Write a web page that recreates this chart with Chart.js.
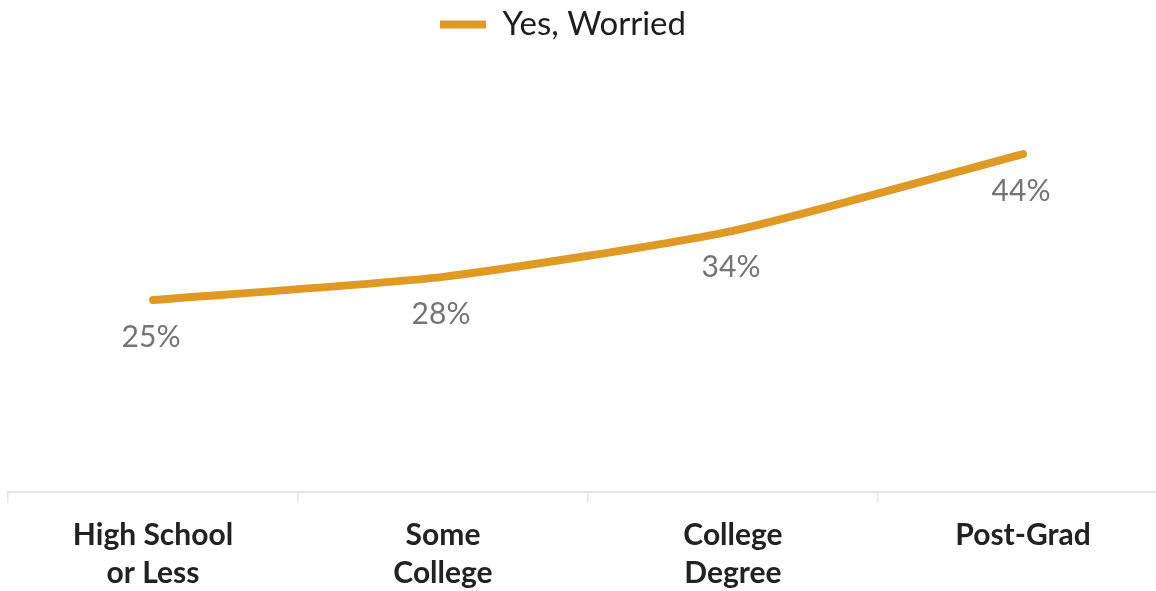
<!DOCTYPE html>
<html>
<head>
<meta charset="utf-8">
<script src="https://cdn.jsdelivr.net/npm/chart.js@4.4.1/dist/chart.umd.min.js"></script>
<style>
  html, body { margin: 0; padding: 0; background: #fff; overflow: hidden; }
  #wrap { position: relative; width: 1168px; height: 605px; }
</style>
</head>
<body>
<div id="wrap"><canvas id="worryChart"></canvas></div>
<script>
const categories = [['High School', 'or Less'], ['Some', 'College'], ['College', 'Degree'], ['Post-Grad']];
const worriedValues = [25, 28, 34, 44];
const seriesName = 'Yes, Worried';

const lineColor = '#DF9A26';

// percent labels drawn just under each point
const pointLabels = {
    id: 'pointLabels',
    afterDatasetsDraw(chart) {
        const ctx = chart.ctx;
        const meta = chart.getDatasetMeta(0);
        ctx.save();
        ctx.font = '30px Lato, sans-serif';
        ctx.fillStyle = '#747474';
        ctx.textAlign = 'center';
        ctx.textBaseline = 'middle';
        meta.data.forEach((pt, i) => {
            ctx.fillText(worriedValues[i] + '%', pt.x - 2, pt.y + 37);
        });
        ctx.restore();
    }
};

// leave room between the legend and the plot, and nudge the legend left a bit
const legendSpacer = {
    id: 'legendSpacer',
    beforeInit(chart) {
        const origFit = chart.legend.fit;
        chart.legend.fit = function () {
            origFit.bind(chart.legend)();
            this.height += 57;
        };
    },
    afterLayout(chart) {
        chart.legend.left -= 25;
        chart.legend.right -= 25;
    }
};

new Chart(document.getElementById('worryChart'), {
    type: 'line',
    data: {
        labels: categories,
        datasets: [{
            label: seriesName,
            data: worriedValues,
            borderColor: lineColor,
            backgroundColor: lineColor,
            borderWidth: 8,
            borderCapStyle: 'round',
            borderJoinStyle: 'round',
            tension: 0.2,
            pointRadius: 0,
            pointHoverRadius: 0
        }]
    },
    options: {
        responsive: true,
        maintainAspectRatio: false,
        animation: false,
        layout: { padding: { left: 8, right: 0, top: 0, bottom: 0 } },
        plugins: {
            legend: {
                position: 'top',
                labels: {
                    usePointStyle: true,
                    pointStyle: 'line',
                    pointStyleWidth: 46,
                    padding: 8,
                    color: '#1e1e1e',
                    font: { family: 'Lato, sans-serif', size: 33 }
                }
            },
            tooltip: { enabled: false }
        },
        scales: {
            x: {
                offset: true,
                grid: {
                    offset: true,
                    drawOnChartArea: false,
                    drawTicks: true,
                    tickLength: 11,
                    color: '#e4e4e4',
                    lineWidth: 1.5
                },
                border: { display: true, color: '#e4e4e4', width: 2 },
                ticks: {
                    color: '#222',
                    padding: 13,
                    maxRotation: 0,
                    autoSkip: false,
                    font: { family: 'Lato, sans-serif', size: 30, weight: 'bold', lineHeight: 1.27 }
                }
            },
            y: {
                display: false,
                min: 0,
                max: 50
            }
        }
    },
    plugins: [pointLabels, legendSpacer]
});
</script>
</body>
</html>
